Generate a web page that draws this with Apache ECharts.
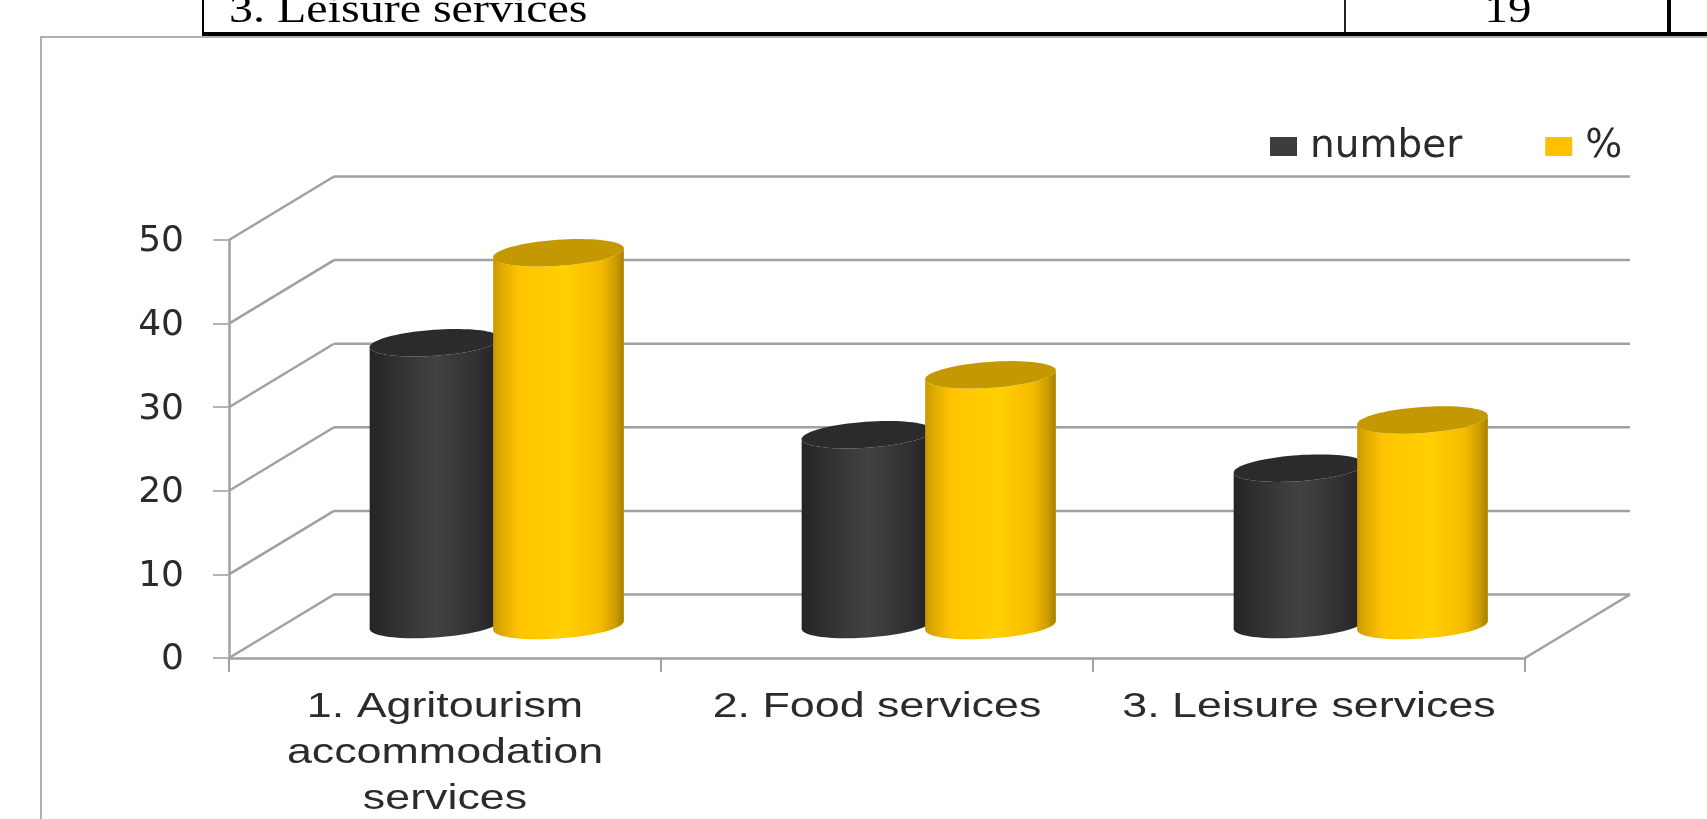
<!DOCTYPE html>
<html>
<head>
<meta charset="utf-8">
<style>html,body{margin:0;padding:0;background:#fff}#chart{width:1707px;height:819px}</style>
<script src="https://cdn.jsdelivr.net/npm/echarts@6/dist/echarts.min.js"></script>
</head>
<body>
<div id="chart"></div>
<script>
// Rural service types by count and share
const categories = ['1. Agritourism\naccommodation\nservices', '2. Food services', '3. Leisure services'];
const numberValues = [34, 23, 19];
const percentValues = [45.3, 30.7, 25.3];
const yTicks = [0, 10, 20, 30, 40, 50];
const seriesNames = ['number', '%'];
const tableRowLabel = '3. Leisure services';
const tableRowValue = '19';

// Oblique projection of the 3D box
const depthX = 105, depthY = 63.5;
const lineGrey = '#a0a0a0';
const tickGrey = '#b4b4b4';
const textColor = '#2b2b2b';

function gridRender(params, api) {
  const cs = params.coordSys;
  const y = api.coord([0, api.value(0)])[1];
  const left = cs.x, right = cs.x + cs.width;
  const style = { stroke: lineGrey, lineWidth: 2.5, fill: 'none' };
  const children = [
    { type: 'line', shape: { x1: left, y1: y, x2: left + depthX, y2: y - depthY }, style },
    { type: 'line', shape: { x1: left + depthX, y1: y - depthY, x2: right + depthX, y2: y - depthY }, style }
  ];
  if (api.value(0) === 0) {
    children.push({ type: 'line', shape: { x1: right, y1: y, x2: right + depthX, y2: y - depthY }, style });
  }
  return { type: 'group', children };
}

function cylinderRender(opts) {
  return function (params, api) {
    const band = api.size([1, 0])[0];
    const i = api.value(0);
    const cx = api.coord([i, 0])[0] + 52 + opts.offset * band;
    const baseY = api.coord([i, 0])[1] - opts.baseLift;
    const topY = api.coord([i, api.value(1)])[1] - opts.topLift;
    const rx = 65.5, ry = 13, tilt = 4 * Math.PI / 180;
    const pt = (y, a) => {
      const ex = rx * Math.cos(a), ey = ry * Math.sin(a);
      return [cx + ex * Math.cos(tilt) + ey * Math.sin(tilt),
              y - ex * Math.sin(tilt) + ey * Math.cos(tilt)];
    };
    // Side wall: top rim's left end, down the edge, along the lower front rim, back up
    const side = [];
    for (let k = 0; k <= 40; k++) side.push(pt(baseY, Math.PI - Math.PI * k / 40));
    for (let k = 0; k <= 40; k++) side.push(pt(topY, Math.PI * k / 40));
    const cap = [];
    for (let k = 0; k < 80; k++) cap.push(pt(topY, 2 * Math.PI * k / 80));
    return {
      type: 'group',
      children: [
        { type: 'polygon', shape: { points: side },
          style: { fill: new echarts.graphic.LinearGradient(0, 0, 1, 0, opts.stops) } },
        { type: 'polygon', shape: { points: cap }, style: { fill: opts.cap } }
      ]
    };
  };
}

function categoryLabelRender(params, api) {
  const i = api.value(0);
  const p = api.coord([i, 0]);
  return {
    type: 'text', x: p[0], y: p[1] + 26, scaleX: 1.28,
    style: {
      text: categories[i], font: '35px "Liberation Sans"', fill: textColor,
      textAlign: 'center', textVerticalAlign: 'top', lineHeight: 46
    }
  };
}

const tableRect = (x, y, w, h, fill) => ({ type: 'rect', shape: { x, y, width: w, height: h }, style: { fill }, z: 1 });

const option = {
  animation: false,
  backgroundColor: '#fff',
  grid: { left: 229, top: 240, width: 1296, height: 418 },
  legend: {
    left: 1265, top: 122, icon: 'rect', itemWidth: 27, itemHeight: 19, itemGap: 83,
    selectedMode: false,
    data: [
      { name: seriesNames[0], itemStyle: { color: '#3c3c3c' } },
      { name: seriesNames[1], itemStyle: { color: '#ffc000' } }
    ],
    textStyle: { fontFamily: 'DejaVu Sans', fontSize: 39, color: textColor, padding: [0, 0, 0, 8],
      verticalAlign: 'top', lineHeight: 4 }
  },
  xAxis: {
    type: 'category', data: categories,
    axisLine: { lineStyle: { color: lineGrey, width: 2.5 } },
    axisTick: { show: true, alignWithLabel: false, length: 14, lineStyle: { color: lineGrey, width: 2 } },
    axisLabel: { show: false }
  },
  yAxis: {
    type: 'value', min: 0, max: 50, interval: 10,
    splitLine: { show: false },
    axisLine: { show: true, lineStyle: { color: lineGrey, width: 2.5 } },
    axisTick: { show: true, length: 16, lineStyle: { color: tickGrey, width: 2 } },
    axisLabel: { fontFamily: 'DejaVu Sans', fontSize: 36, color: textColor, margin: 45,
      verticalAlign: 'top', lineHeight: 4, formatter: v => String(v) }
  },
  series: [
    { type: 'custom', name: 'grid', silent: true, z: 1, data: yTicks.map(v => [v]),
      encode: { y: 0 }, renderItem: gridRender },
    { type: 'custom', name: seriesNames[0], z: 3, itemStyle: { color: '#3c3c3c' },
      data: numberValues.map((v, i) => [i, v]), encode: { x: 0, y: 1 },
      renderItem: cylinderRender({ offset: -62 / 432, baseLift: 33.5, topLift: 31, cap: '#2b2b2b',
        stops: [{ offset: 0, color: '#242424' }, { offset: 0.12, color: '#2c2c2c' },
                { offset: 0.5, color: '#424242' }, { offset: 0.82, color: '#303030' },
                { offset: 1, color: '#222222' }] }) },
    { type: 'custom', name: seriesNames[1], z: 4, itemStyle: { color: '#ffc000' },
      data: percentValues.map((v, i) => [i, v]), encode: { x: 0, y: 1 },
      renderItem: cylinderRender({ offset: 61.5 / 432, baseLift: 32.5, topLift: 26.5, cap: '#c49800',
        stops: [{ offset: 0, color: '#c99a00' }, { offset: 0.07, color: '#e0ab00' },
                { offset: 0.2, color: '#ffc400' }, { offset: 0.55, color: '#ffd000' },
                { offset: 0.82, color: '#f7bc00' }, { offset: 0.93, color: '#cf9e00' },
                { offset: 1, color: '#a88000' }] }) },
    { type: 'custom', name: 'labels', silent: true, z: 5,
      data: categories.map((c, i) => [i]), encode: { x: 0 }, renderItem: categoryLabelRender }
  ],
  graphic: {
    elements: [
      tableRect(202, 0, 2, 33, '#000'),
      tableRect(1344, 0, 2, 33, '#222'),
      tableRect(1667, 0, 4, 33, '#000'),
      tableRect(202, 32, 1505, 4, '#000'),
      tableRect(41, 36, 1666, 2, '#b0b0b0'),
      tableRect(40, 36, 2, 783, '#b0b0b0'),
      { type: 'text', x: 229, y: 31, scaleX: 1.2, z: 2,
        style: { text: tableRowLabel, font: '40px "Liberation Serif"', fill: '#000', textVerticalAlign: 'bottom' } },
      { type: 'text', x: 1508, y: 31, scaleX: 1.17, z: 2,
        style: { text: tableRowValue, font: '40px "Liberation Serif"', fill: '#000', textAlign: 'center', textVerticalAlign: 'bottom' } }
    ]
  }
};

const chart = echarts.init(document.getElementById('chart'));
chart.setOption(option);
</script>
</body>
</html>
